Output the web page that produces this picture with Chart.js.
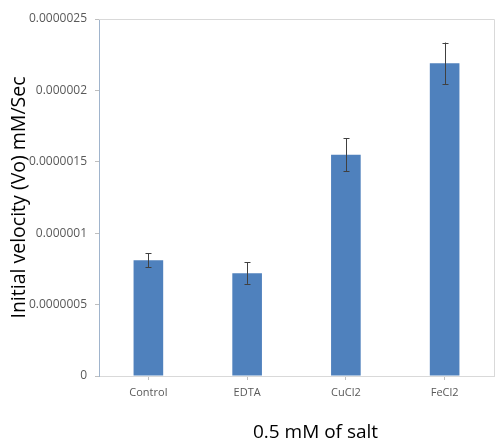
<!DOCTYPE html>
<html>
<head>
<meta charset="utf-8">
<script src="https://cdn.jsdelivr.net/npm/chart.js@4.4.0/dist/chart.umd.min.js"></script>
<style>
  body { margin: 0; background: #fff; }
  canvas { display: block; }
</style>
</head>
<body>
<canvas id="myChart" width="497" height="443"></canvas>
<script>
var categories = ['Control', 'EDTA', 'CuCl2', 'FeCl2'];
var velocities = [0.00000081, 0.00000072, 0.00000155, 0.00000219];
var errors = [0.00000005, 0.000000075, 0.000000115, 0.000000145];
var yTickLabels = ['0', '0.0000005', '0.000001', '0.0000015', '0.000002', '0.0000025'];
var yTitle = 'Initial velocity (Vo) mM/Sec';
var xTitle = '0.5 mM of salt';

// error bars, plot frame and x title
var extras = {
    id: 'extras',
    afterDatasetsDraw: function(chart) {
        var ctx = chart.ctx;
        var x = chart.scales.x, y = chart.scales.y;
        var area = chart.chartArea;
        ctx.save();
        // frame top + right
        ctx.strokeStyle = '#d9d9d9';
        ctx.lineWidth = 1;
        ctx.beginPath();
        ctx.moveTo(area.left, area.top + 0.5);
        ctx.lineTo(area.right + 0.5, area.top + 0.5);
        ctx.lineTo(area.right + 0.5, area.bottom);
        ctx.stroke();
        // error bars
        ctx.strokeStyle = '#404040';
        for (var i = 0; i < velocities.length; i++) {
            var px = Math.round(x.getPixelForValue(i)) + 0.5;
            var top = y.getPixelForValue(velocities[i] + errors[i]);
            var bot = y.getPixelForValue(velocities[i] - errors[i]);
            ctx.beginPath();
            ctx.moveTo(px, top); ctx.lineTo(px, bot);
            ctx.moveTo(px - 3, Math.round(top) + 0.5); ctx.lineTo(px + 3, Math.round(top) + 0.5);
            ctx.moveTo(px - 3, Math.round(bot) + 0.5); ctx.lineTo(px + 3, Math.round(bot) + 0.5);
            ctx.stroke();
        }
        // x axis title
        ctx.fillStyle = '#000';
        ctx.font = '19px "Open Sans"';
        ctx.textAlign = 'center';
        ctx.textBaseline = 'middle';
        ctx.fillText(xTitle, (area.left + area.right) / 2 + 19, chart.height - 10);
        ctx.restore();
    }
};

var ctx = document.getElementById('myChart').getContext('2d');
var myChart = new Chart(ctx, {
    type: 'bar',
    data: {
        labels: categories,
        datasets: [{
            data: velocities,
            backgroundColor: '#4f81bd',
            borderWidth: 0,
            categoryPercentage: 1,
            barPercentage: 0.3
        }]
    },
    options: {
        responsive: false,
        animation: false,
        layout: { padding: { top: 19, right: 3 } },
        plugins: {
            legend: { display: false },
            tooltip: { enabled: false }
        },
        scales: {
            x: {
                grid: { offset: false, color: 'rgba(0,0,0,0)', tickColor: '#bfbfbf', tickLength: 4 },
                border: { color: '#d9d9d9' },
                ticks: { color: '#595959', font: { family: 'Open Sans', size: 11 }, padding: 6 },
                afterFit: function(scale) { scale.height = 67; }
            },
            y: {
                min: 0,
                max: 0.0000025,
                grid: { color: 'rgba(0,0,0,0)', tickColor: '#bfbfbf', tickLength: 4 },
                border: { color: '#a0b4cc' },
                ticks: {
                    stepSize: 0.0000005,
                    color: '#595959',
                    font: { family: 'Open Sans', size: 12 },
                    padding: 8,
                    callback: function(value, index) { return yTickLabels[index]; }
                },
                title: {
                    display: true,
                    text: yTitle,
                    color: '#000',
                    font: { family: 'Open Sans', size: 19.5 },
                    padding: { top: 8, bottom: 0 }
                },
                afterFit: function(scale) { scale.width = 99; }
            }
        }
    },
    plugins: [extras]
});
</script>
</body>
</html>
